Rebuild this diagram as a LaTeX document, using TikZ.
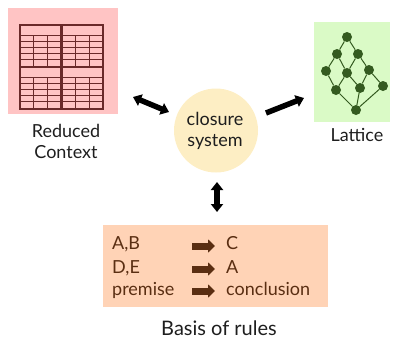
\documentclass[tikz,border=0pt]{standalone}
\usepackage{fontspec}
\setmainfont{Lato}
\usetikzlibrary{arrows.meta}
\definecolor{pinkbg}{HTML}{FFC4C4}
\definecolor{tbl}{HTML}{6A2A2A}
\definecolor{greenbg}{HTML}{DAFAC6}
\definecolor{latt}{HTML}{345A20}
\definecolor{circ}{HTML}{FDEEC4}
\definecolor{peach}{HTML}{FFD3B6}
\definecolor{rule}{HTML}{5A2E12}
\definecolor{txt}{HTML}{1E1E1E}
\tikzset{
  lbl/.style={font=\fontsize{18}{21}\selectfont, text=txt, align=center, inner sep=0pt},
  rtxt/.style={font=\fontsize{18}{21}\selectfont, text=rule, anchor=base west, inner sep=0pt},
  lnode/.style={circle, fill=latt, minimum size=10pt, inner sep=0pt},
  ledge/.style={draw=latt, line width=1pt},
  bigarrow/.style={line width=5.5pt, -{Triangle[length=8pt,width=12pt]}},
  bigdarrow/.style={line width=5.5pt, {Triangle[length=8pt,width=12pt]}-{Triangle[length=8pt,width=12pt]}},
  rarrow/.style={line width=7pt, draw=rule, -{Triangle[length=7pt,width=13pt]}},
}
\begin{document}
\begin{tikzpicture}[x=1pt,y=-1pt]
\useasboundingbox (0,0) rectangle (394,338);
% pink box with table
\fill[pinkbg] (8,8) rectangle (118,114);
\foreach \qx in {20,62}{
  \foreach \qy in {25,67}{
    \draw[tbl, line width=1.4pt] (\qx,\qy) rectangle ++(41,42);
    \draw[tbl, line width=1.2pt] (\qx,\qy+10.5) -- ++(41,0);
    \foreach \r in {16.5,22.5,28.5,34.5}{
      \draw[tbl, line width=1.2pt] (\qx,\qy+\r) -- ++(41,0);
    }
    \draw[tbl, line width=1.2pt] (\qx+13.7,\qy+10.5) -- ++(0,31.5);
    \draw[tbl, line width=1.2pt] (\qx+27.3,\qy+10.5) -- ++(0,31.5);
  }
}
\draw[tbl, line width=3pt] (61.5,25) -- (61.5,109);
\draw[tbl, line width=2.4pt] (20,67) -- (103,67);
\node[lbl, anchor=base] (ctx) at (66,158) {Reduced\\Context};

% green lattice box
\fill[greenbg] (314,22) rectangle (390,122);
\node[lnode] (t)  at (347,37) {};
\node[lnode] (a1) at (337,54) {};
\node[lnode] (a2) at (358,54) {};
\node[lnode] (b1) at (326,71) {};
\node[lnode] (b2) at (347,73) {};
\node[lnode] (b3) at (369,70) {};
\node[lnode] (c1) at (336,90) {};
\node[lnode] (c2) at (360,88) {};
\node[lnode] (c3) at (383,86) {};
\node[lnode] (bot) at (356,110) {};
\draw[ledge] (t)--(a1) (t)--(a2) (a1)--(b1) (a1)--(b2) (a2)--(b2) (a2)--(b3)
  (b1)--(c1) (b2)--(c1) (b2)--(c2) (b3)--(c2) (b3)--(c3)
  (c1)--(bot) (c2)--(bot) (c3)--(bot);
\node[lbl, anchor=base] (lat) at (357,141) {Lattice};

% closure system
\node[circle, fill=circ, minimum size=84pt, inner sep=0pt] (cs) at (216,130.5) {};
\node[lbl, anchor=base] (cst) at (215,146.5) {closure\\system};

% arrows
\coordinate (l1) at (133,97);
\coordinate (l2) at (169,112);
\draw[bigdarrow] (l1) -- (l2);
\coordinate (r1) at (266,113);
\coordinate (r2) at (304,98);
\draw[bigarrow] (r1) -- (r2);
\coordinate (v1) at (217,182);
\coordinate (v2) at (217,212);
\draw[bigdarrow] (v1) -- (v2);

% rules box
\fill[peach] (103,225) rectangle (328,307);
\node[rtxt] (p1) at (112,249) {A,B};
\node[rtxt] (p2) at (112,273) {D,E};
\node[rtxt] (p3) at (112,295) {premise};
\node[rtxt] (q1) at (226,249) {C};
\node[rtxt] (q2) at (226,273) {A};
\node[rtxt] (q3) at (226,295) {conclusion};
\foreach \y/\n in {246/1,269/2,291/3}{
  \coordinate (s\n) at (192,\y);
  \coordinate (e\n) at (215,\y);
  \draw[rarrow] (s\n) -- (e\n);
}
\node[lbl, anchor=base, font=\fontsize{20}{24}\selectfont] (basis) at (219,335) {Basis of rules};
\end{tikzpicture}
\end{document}
